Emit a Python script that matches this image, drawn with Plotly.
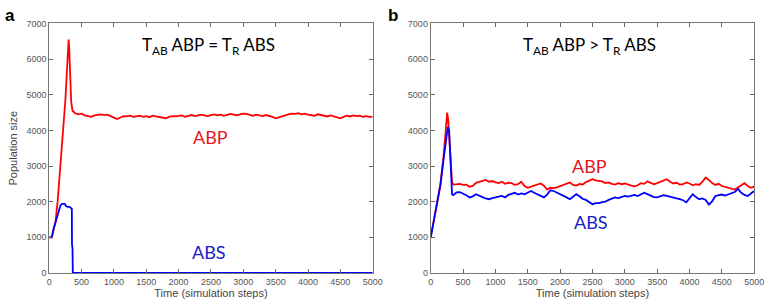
import plotly.graph_objects as go

# ---------------- data ----------------
# Panel a (T_AB ABP = T_R ABS)
a_abp_t_early = [0, 40, 70, 96, 130, 160, 200, 225, 250, 275, 290, 300, 310, 325, 340, 360, 380]
a_abp_v_early = [1000, 1000, 1250, 1420, 2000, 2650, 3550, 4200, 4850, 5700, 6300, 6550, 6250, 5300, 4800, 4550, 4500]
a_abp_plateau = [
    4480, 4450, 4470, 4420, 4400, 4380, 4420, 4440, 4450, 4430,
    4440, 4400, 4360, 4320, 4360, 4400, 4390, 4410, 4380, 4400,
    4410, 4380, 4400, 4370, 4410, 4390, 4380, 4360, 4340, 4380,
    4400, 4390, 4410, 4420, 4380, 4410, 4430, 4400, 4420, 4440,
    4420, 4400, 4430, 4450, 4420, 4440, 4410, 4430, 4460, 4440,
    4420, 4450, 4470, 4460, 4430, 4410, 4440, 4420, 4400, 4430,
    4410, 4380, 4340, 4360, 4400, 4420, 4450, 4470, 4460, 4480,
    4450, 4470, 4440, 4430, 4410, 4450, 4430, 4410, 4390, 4420,
    4400, 4360, 4340, 4380, 4410, 4390, 4420, 4400, 4410, 4380,
    4400, 4380, 4380,
]
a_abs_t = [0, 40, 70, 96, 120, 150, 175, 200, 240, 260, 280, 320, 340, 350, 352, 360, 365, 5000]
a_abs_v = [1000, 1000, 1250, 1400, 1550, 1780, 1900, 1940, 1940, 1880, 1860, 1850, 1820, 1800, 800, 700, 0, 0]

# Panel b (T_AB ABP > T_R ABS)
b_abp_t_early = [0, 25, 50, 75, 100, 150, 200, 230, 255, 270, 290, 310, 330, 350]
b_abp_v_early = [1000, 1250, 1550, 1800, 2000, 2500, 3300, 3900, 4500, 4300, 3600, 2900, 2550, 2480]
b_abp_plateau = [
    2480, 2500, 2470, 2480, 2420, 2440, 2530, 2560, 2600, 2610,
    2560, 2580, 2540, 2520, 2560, 2500, 2530, 2520, 2470, 2490,
    2560, 2440, 2390, 2420, 2460, 2490, 2510, 2450, 2340, 2390,
    2380, 2400, 2440, 2470, 2500, 2540, 2470, 2450, 2500, 2480,
    2550, 2590, 2630, 2600, 2590, 2570, 2520, 2540, 2500, 2480,
    2520, 2490, 2510, 2470, 2450, 2430, 2460, 2520, 2500, 2570,
    2530, 2490, 2520, 2560, 2580, 2630, 2560, 2510, 2530, 2480,
    2490, 2540, 2510, 2460, 2490, 2470, 2560, 2680, 2610, 2520,
    2470, 2500, 2440, 2420, 2400, 2360, 2340, 2400, 2470, 2520,
    2440, 2390, 2420,
]
b_abs_t_early = [0, 25, 50, 100, 150, 200, 240, 265, 285, 300, 315, 330, 350]
b_abs_v_early = [1000, 1230, 1500, 1950, 2450, 3200, 3800, 4100, 4000, 3500, 2700, 2200, 2180]
b_abs_plateau = [
    2260, 2270, 2230, 2180, 2120, 2150, 2210, 2180, 2130, 2090,
    2070, 2100, 2110, 2140, 2160, 2120, 2190, 2230, 2250, 2200,
    2230, 2210, 2260, 2300, 2250, 2200, 2150, 2120, 2200, 2320,
    2300, 2260, 2210, 2180, 2120, 2070, 2130, 2210, 2150, 2080,
    2050, 2000, 1930, 1960, 1960, 1990, 2000, 2050, 2090, 2120,
    2100, 2130, 2160, 2140, 2170, 2190, 2160, 2200, 2250, 2210,
    2170, 2130, 2120, 2150, 2180, 2160, 2130, 2110, 2090, 2070,
    2040, 1980, 2100, 2210, 2130, 2070, 2090, 2050, 1920, 2010,
    2160, 2180, 2200, 2170, 2210, 2230, 2270, 2360, 2250, 2190,
    2160, 2230, 2300,
]
plateau_t = list(range(400, 5001, 50))

x_ticks = [0, 500, 1000, 1500, 2000, 2500, 3000, 3500, 4000, 4500, 5000]
y_ticks = [0, 1000, 2000, 3000, 4000, 5000, 6000, 7000]

RED = "#ff0000"
BLUE = "#0000ff"

fig = go.Figure()
fig.add_trace(go.Scatter(x=a_abp_t_early + plateau_t, y=a_abp_v_early + a_abp_plateau,
                         mode="lines", line=dict(color=RED, width=1.8), xaxis="x", yaxis="y"))
fig.add_trace(go.Scatter(x=a_abs_t, y=a_abs_v, mode="lines",
                         line=dict(color=BLUE, width=1.8), xaxis="x", yaxis="y"))
fig.add_trace(go.Scatter(x=b_abp_t_early + plateau_t, y=b_abp_v_early + b_abp_plateau,
                         mode="lines", line=dict(color=RED, width=1.8), xaxis="x2", yaxis="y2"))
fig.add_trace(go.Scatter(x=b_abs_t_early + plateau_t, y=b_abs_v_early + b_abs_plateau,
                         mode="lines", line=dict(color=BLUE, width=1.8), xaxis="x2", yaxis="y2"))

W, H = 775, 308
ydom = [1 - 277 / H, 1 - 19 / H]
tickfont = dict(family="Liberation Sans, Arial", size=9, color="#555555")
titlefont = dict(family="Liberation Sans, Arial", size=11, color="#444444")

def xaxis(dom, anchor):
    return dict(domain=dom, anchor=anchor, range=[0, 5000], tickvals=x_ticks,
                ticks="inside", ticklen=4, tickcolor="#666666", showline=True,
                linecolor="#777777", linewidth=1, mirror="allticks", showgrid=False,
                zeroline=False, tickfont=tickfont,
                title=dict(text="Time (simulation steps)", font=titlefont, standoff=1))

def yaxis(anchor, title):
    return dict(domain=ydom, anchor=anchor, range=[0, 7000], tickvals=y_ticks,
                ticks="inside", ticklen=4, tickcolor="#666666", showline=True,
                linecolor="#777777", linewidth=1, mirror="allticks", showgrid=False,
                zeroline=False, tickfont=tickfont,
                title=dict(text=title, font=titlefont, standoff=6))

fig.update_layout(
    width=W, height=H, margin=dict(l=0, r=0, t=0, b=0),
    paper_bgcolor="white", plot_bgcolor="white", showlegend=False,
    xaxis=xaxis([47 / W, 376 / W], "y"),
    yaxis=yaxis("x", "Population size"),
    xaxis2=xaxis([435 / W, 764 / W], "y2"),
    yaxis2=yaxis("x2", ""),
)

lblfont = "Lato, Noto Sans, sans-serif"
def ann(text, px, py, color="black", size=17, bold=False):
    fig.add_annotation(x=px / W, y=1 - py / H, xref="paper", yref="paper",
                       text=("<b>%s</b>" % text) if bold else text, showarrow=False,
                       font=dict(family=lblfont if not bold else "Liberation Sans, Arial",
                                 size=size, color=color),
                       xanchor="center", yanchor="middle")

ann("T<sub>AB</sub> ABP = T<sub>R</sub> ABS", 209, 42)
ann("ABP", 211, 136, color="#e8141c", size=18)
ann("ABS", 210, 255, color="#1a1acc", size=18)
ann("T<sub>AB</sub> ABP &gt; T<sub>R</sub> ABS", 597, 42)
ann("ABP", 597, 166, color="#e8141c", size=18)
ann("ABS", 598, 224, color="#1a1acc", size=18)
ann("a", 7, 11, size=17, bold=True)
ann("b", 397, 11, size=17, bold=True)

fig.write_html("out.html", config={"displayModeBar": False},
               post_script="document.body.style.margin='0';document.body.style.overflow='hidden';")
